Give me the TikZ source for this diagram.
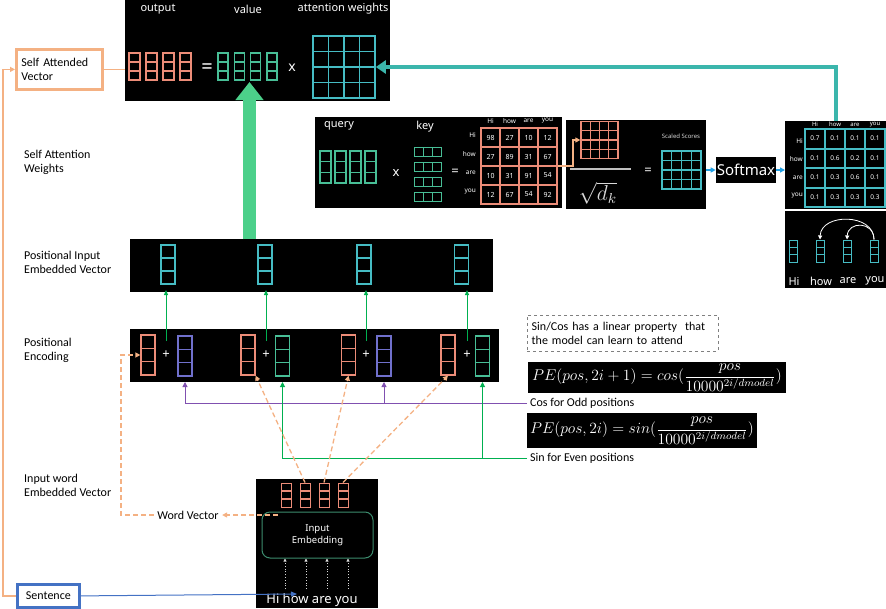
\documentclass[tikz,border=0pt]{standalone}
\usepackage{fontspec}
\usepackage{graphicx}
\setmainfont{Carlito}
\newfontfamily\uifont{Noto Sans}
\usetikzlibrary{calc,arrows.meta}
\definecolor{salmon}{RGB}{236,140,120}
\definecolor{tealv}{RGB}{70,188,196}
\definecolor{greenv}{RGB}{72,190,150}
\definecolor{purpv}{RGB}{112,112,204}
\definecolor{orangeL}{RGB}{244,177,131}
\definecolor{blueS}{RGB}{68,114,196}
\definecolor{bigG}{RGB}{76,208,138}
\definecolor{connT}{RGB}{59,182,172}
\definecolor{skyB}{RGB}{30,160,230}
\definecolor{purpL}{RGB}{128,80,176}
\definecolor{greenL}{RGB}{0,176,80}
\definecolor{embG}{RGB}{60,140,110}
\tikzset{
 blk/.style={fill=black, inner sep=0pt, outer sep=0pt, anchor=north west},
 wt/.style={text=white, inner sep=1pt, font=\uifont\fontsize{11}{13}\selectfont},
 tiny/.style={text=white, inner sep=0pt, font=\uifont\fontsize{6.5}{7}\selectfont},
 lbl/.style={anchor=north west, align=left, inner sep=0pt},
 vv/.style={draw=#1, line width=1.2pt, inner sep=0pt,
   path picture={\draw[#1, line width=1.2pt]
     ($(path picture bounding box.north west)!1/3!(path picture bounding box.south west)$) -- ($(path picture bounding box.north east)!1/3!(path picture bounding box.south east)$)
     ($(path picture bounding box.north west)!2/3!(path picture bounding box.south west)$) -- ($(path picture bounding box.north east)!2/3!(path picture bounding box.south east)$);}},
 hv/.style={draw=#1, line width=1.2pt, inner sep=0pt,
   path picture={\draw[#1, line width=1.2pt]
     ($(path picture bounding box.north west)!1/3!(path picture bounding box.north east)$) -- ($(path picture bounding box.south west)!1/3!(path picture bounding box.south east)$)
     ($(path picture bounding box.north west)!2/3!(path picture bounding box.north east)$) -- ($(path picture bounding box.south west)!2/3!(path picture bounding box.south east)$);}},
 grid4/.style 2 args={draw=#1, line width=#2, inner sep=0pt,
   path picture={\foreach \k in {1,2,3}{\draw[#1, line width=#2]
     ($(path picture bounding box.north west)!\k/4!(path picture bounding box.north east)$) -- ($(path picture bounding box.south west)!\k/4!(path picture bounding box.south east)$)
     ($(path picture bounding box.north west)!\k/4!(path picture bounding box.south west)$) -- ($(path picture bounding box.north east)!\k/4!(path picture bounding box.south east)$);}}},
 od/.style={orangeL, line width=1.3pt, dash pattern=on 5pt off 3pt},
 tip/.style={-{Triangle[length=5pt,width=5pt]}},
}
\begin{document}
\begin{tikzpicture}[x=1pt,y=-1pt,font=\fontsize{12}{14}\selectfont]
\useasboundingbox (0,0) rectangle (886,608);

% ---------- top box
\node[blk, minimum width=265pt, minimum height=101pt] (topbox) at (125,0) {};
\node[wt] (lout) at (158,9) {output};
\node[wt] (lval) at (248,9) {value};
\node[wt] (latt) at (343,9) {attention weights};
\foreach \x [count=\i] in {134.5,151.5,168.5,185.5}
  \node[vv=salmon, minimum width=11pt, minimum height=27pt] (o\i) at (\x,66.5) {};
\node[wt, font=\uifont\fontsize{20}{20}\selectfont] (eq1) at (207,69) {=};
\foreach \x [count=\i] in {223,239.3,255.7,272}
  \node[vv=greenv, minimum width=10pt, minimum height=27pt] (v\i) at (\x,66.5) {};
\node[wt, font=\uifont\fontsize{14}{14}\selectfont] (x1) at (292,68) {x};
\node[grid4={tealv}{1.6pt}, minimum width=62pt, minimum height=62pt] (attgrid) at (344,67) {};

% ---------- self attended vector
\node[draw=orangeL, line width=2.8pt, anchor=north west, minimum width=86pt, minimum height=40pt,
      text width=76pt, inner xsep=5pt, align=left] (sav) at (15,48) {Self Attended\\Vector};
\draw[orangeL, line width=1pt] (sav.east) -- (sav.east -| topbox.west);

% ---------- left labels
\node[lbl] (l1) at (24,150) {Self Attention\\Weights};
\node[lbl] (l2) at (24,251) {Positional Input\\Embedded Vector};
\node[lbl] (l3) at (24,338) {Positional\\Encoding};
\node[lbl] (l4) at (24,474) {Input word\\Embedded Vector};

% ---------- query key box
\node[blk, minimum width=247pt, minimum height=91pt] (qkbox) at (315,117) {};
\node[wt] (lq) at (339,126) {query};
\node[wt] (lk) at (425,127) {key};
\foreach \x [count=\i] in {325.5,340.5,355.5,370.5}
  \node[vv=greenv, minimum width=11pt, minimum height=32pt] (q\i) at (\x,167) {};
\node[wt, font=\uifont\fontsize{13}{13}\selectfont] (x2) at (396,173) {x};
\foreach \y [count=\i] in {152,167,182,197}
  \node[hv=greenv, minimum width=27pt, minimum height=9pt] (k\i) at (428,\y) {};
\node[wt, font=\uifont\fontsize{13}{13}\selectfont] (eq2) at (455,172) {=};
\node[grid4={salmon}{2.4pt}, fill=black, minimum width=76pt, minimum height=76pt] (sgrid) at (519,166) {};
\foreach \w [count=\i] in {Hi,how,are,you}{
  \node[tiny] (sc\i) at (471.5+19*\i,121) {\w};
  \node[tiny, anchor=east] (sr\i) at (476,116+19*\i) {\w};
}
\foreach \v [count=\n from 0] in {98,27,10,12,27,89,31,67,10,31,91,54,12,67,54,92}{
  \pgfmathtruncatemacro\cc{mod(\n,4)}
  \pgfmathtruncatemacro\rr{div(\n,4)}
  \node[tiny, font=\uifont\fontsize{7}{8}\selectfont] (sv\n) at (490.5+19*\cc,137.5+19*\rr) {\v};
}

% ---------- scaled box
\node[blk, minimum width=140pt, minimum height=89pt] (scbox) at (566,120) {};
\node[grid4={salmon}{1.3pt}, minimum width=37pt, minimum height=37pt] (scgrid) at (599.5,140) {};
\draw[white!75!black, line width=1.6pt] (570,169) -- (631,169);
\node[text=white!85!black, inner sep=0pt] (sq) at (598,193) {\scalebox{1.8}{$\sqrt{d_k}$}};
\node[wt, font=\uifont\fontsize{13}{13}\selectfont] (eq3) at (648,171) {=};
\node[tiny, text=white!85!black, font=\uifont\fontsize{6}{7}\selectfont] (lss) at (681,136) {Scaled Scores};
\node[grid4={tealv}{1.3pt}, minimum width=39pt, minimum height=38pt] (ssgrid) at (681.5,170) {};
\draw[orangeL, line width=1.5pt, tip] (sgrid.east) -- ++(15,0) |- (scgrid.west);

% ---------- softmax
\node[fill=black, text=white, font=\uifont\fontsize{15}{16}\selectfont, inner sep=1pt,
      minimum width=58pt, minimum height=26pt] (smx) at (746,170) {Softmax};
\node[blk, minimum width=101pt, minimum height=88pt] (smbox) at (785,121) {};
\draw[skyB, line width=1.2pt, tip] (scbox.east |- smx) -- (smx.west);
\draw[skyB, line width=1.2pt, tip] (smx.east) -- (smbox.west |- smx);
\node[grid4={tealv}{2pt}, minimum width=80pt, minimum height=78pt] (smgrid) at (845,168) {};
\foreach \w [count=\i] in {Hi,how,are,you}{
  \node[tiny, font=\uifont\fontsize{6}{7}\selectfont] (mc\i) at (795+20*\i,124.5) {\w};
}
\foreach \w/\y [count=\i] in {Hi/141,how/159,are/178,you/196}{
  \node[tiny, anchor=east] (mr\i) at (803,\y) {\w};
}
\foreach \v [count=\n from 0] in {0.7,0.1,0.1,0.1,0.1,0.6,0.2,0.1,0.1,0.3,0.6,0.1,0.1,0.3,0.3,0.3}{
  \pgfmathtruncatemacro\cc{mod(\n,4)}
  \pgfmathtruncatemacro\rr{div(\n,4)}
  \node[tiny] (mv\n) at (815+20*\cc,138.5+19.5*\rr) {\v};
}

% ---------- attention arcs box
\node[blk, minimum width=101pt, minimum height=77pt] (arcbox) at (785,211) {};
\foreach \x/\w [count=\i] in {793/Hi,820/how,847/are,874/you}{
  \node[vv=tealv, line width=1pt, minimum width=8pt, minimum height=22pt] (av\i) at (\x,251) {};
  \node[wt] (aw\i) at (\x+1,281) {\w};
}
\draw[white, line width=0.8pt, -{Triangle[length=4pt,width=4pt]}] (av4.north) .. controls (874,213) and (821,213) .. (av2.north);
\draw[white, line width=0.8pt, -{Triangle[length=4pt,width=4pt]}] (av4.north) .. controls (874,221) and (848,221) .. (av3.north);

% teal connector
\draw[connT, line width=4pt, -{Triangle[length=10pt,width=13pt]}] (smbox.north) |- (attgrid.east);

% ---------- positional input box
\node[blk, minimum width=363pt, minimum height=53pt] (pibox) at (130,239) {};
\foreach \x [count=\i] in {168,265,364,461.5}
  \node[vv=tealv, minimum width=14pt, minimum height=39pt] (pv\i) at (\x,264.5) {};

% big green arrow
\coordinate (bigtip) at (249.5,82);
\draw[bigG, line width=13pt, -{Triangle[length=18pt,width=27pt]}] (pibox.north -| bigtip) -- (bigtip);

% ---------- positional encoding box
\node[blk, minimum width=369pt, minimum height=53pt] (pebox) at (130,329) {};
\foreach \x [count=\i] in {148,248,348.5,448}
  \node[vv=salmon, minimum width=14pt, minimum height=40pt] (ps\i) at (\x,355) {};
\foreach \x [count=\i] in {166,266,366,467}
  \node[wt, font=\uifont\fontsize{13}{13}\selectfont] (pl\i) at (\x,355) {+};
\node[vv=purpv, minimum width=14pt, minimum height=40pt] (pq1) at (185,356) {};
\node[vv=greenv, minimum width=14pt, minimum height=40pt] (pq2) at (282.5,356) {};
\node[vv=purpv, minimum width=14pt, minimum height=40pt] (pq3) at (384,356) {};
\node[vv=greenv, minimum width=14pt, minimum height=40pt] (pq4) at (482.5,356) {};
\foreach \i in {1,2,3,4}
  \draw[greenL, line width=0.9pt, -{Triangle[length=5pt,width=4pt]}] ($(pl\i)+(0,-14)$) -- ($(pibox.south -| pl\i)+(0,-2)$);

% ---------- formulas and notes
\node[draw=gray, dashed, anchor=north west, minimum width=191pt, minimum height=36pt,
      text width=182pt, inner xsep=4.5pt, align=left] (note) at (527,315)
      {Sin/Cos has a linear property\ \ that\\the model can learn to attend};
\node[blk, minimum width=258pt, minimum height=31pt, text=white, inner xsep=3pt] (cosf) at (528,362)
  {\scalebox{1.3}{$\displaystyle PE(pos,2i+1)=cos(\frac{pos}{10000^{2i/dmodel}})$}};
\node[blk, minimum width=230pt, minimum height=35pt, text=white, inner xsep=2pt] (sinf) at (527,413)
  {\scalebox{1.3}{$\displaystyle PE(pos,2i)=sin(\frac{pos}{10000^{2i/dmodel}})$}};
\node[anchor=west, inner xsep=3pt] (coslab) at (527,403) {Cos for Odd positions};
\node[anchor=west, inner xsep=3pt] (sinlab) at (527,458) {Sin for Even positions};
\draw[purpL, line width=1pt] (coslab.west) -- (coslab.west -| pq1);
\draw[purpL, line width=1pt, tip] (coslab.west -| pq1) -- (pebox.south -| pq1);
\draw[purpL, line width=1pt, tip] (coslab.west -| pq3) -- (pebox.south -| pq3);
\draw[greenL, line width=1pt, tip] (sinlab.west) -| (pebox.south -| pq2);
\draw[greenL, line width=1pt, tip] (sinlab.west -| pq4) -- (pebox.south -| pq4);

% ---------- input embedding box
\node[blk, minimum width=122pt, minimum height=129pt] (iebox) at (256,479) {};
\foreach \x [count=\i] in {286,305,324,343}
  \node[vv=salmon, line width=1pt, minimum width=10pt, minimum height=24pt] (iv\i) at (\x,495) {};
\node[draw=embG, line width=1pt, rounded corners=8pt, minimum width=111pt, minimum height=46pt,
      text=white, align=center, font=\uifont\fontsize{9.5}{12}\selectfont] (emb) at (317.5,535) {Input\\Embedding};
\node[wt, font=\uifont\fontsize{13}{14}\selectfont] (hi) at (312,600) {Hi how are you};
\foreach \x [count=\i] in {285,306,327,348}{
  \coordinate (ds\i) at (\x,589);
  \draw[white!85!black, line width=0.8pt, dotted, -{Triangle[length=3pt,width=3pt]}] (ds\i) -- (ds\i |- emb.south);
}
\draw[od, tip] (iv2.north) -- (ps2.south east);
\draw[od, tip] (iv3.north) -- (ps3.south);
\draw[od, tip] (iv4.north) -- (ps4.south);

% word vector
\node (wv) at (188,515) {Word Vector};
\coordinate (wvs) at (278,515);
\coordinate (wvc) at (121,515);
\draw[od, tip] (wvs) -- (wv.east);
\draw[od, tip] (wv.west) -- (wvc) |- (ps1.west);

% ---------- sentence
\node[draw=blueS, line width=2.8pt, anchor=north west, minimum width=62pt, minimum height=23pt, inner sep=2pt] (sent) at (16,583) {Sentence};
\coordinate (hiin) at (297,594);
\draw[blueS, line width=1pt, -{Triangle[length=6pt,width=5pt]}] (sent.east) -- (hiin);
\draw[orangeL, line width=1.2pt, tip] (sent.west) -- ++(-13,0) |- (sav.west);
\end{tikzpicture}
\end{document}
